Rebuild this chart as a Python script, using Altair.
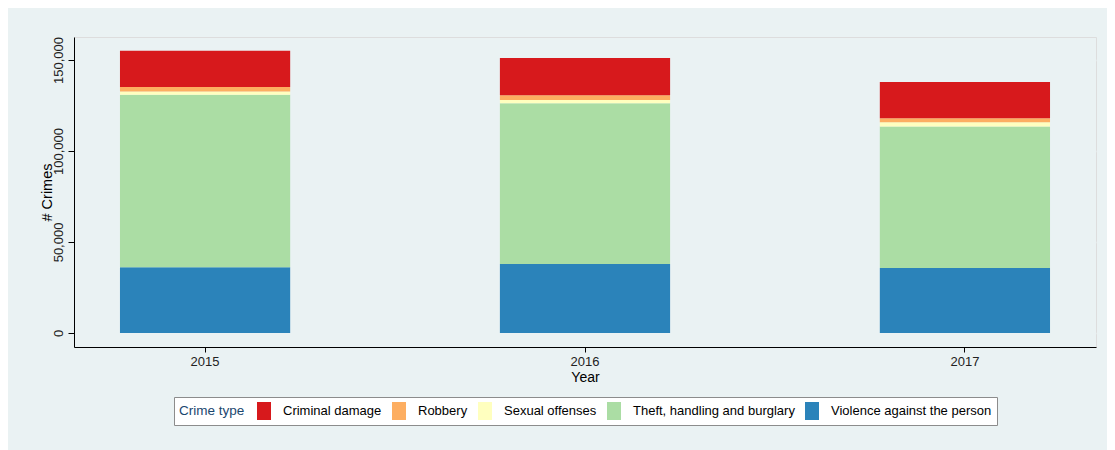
import altair as alt
import pandas as pd

years = ["2015", "2016", "2017"]
crime_types = [
    "Criminal damage",
    "Robbery",
    "Sexual offenses",
    "Theft, handling and burglary",
    "Violence against the person",
]
colors = ["#D7191C", "#FDAE61", "#FFFFBF", "#ABDDA4", "#2B83BA"]

violence = [36100, 37900, 35700]
theft = [94800, 88300, 77700]
sexual = [1700, 1800, 2400]
robbery = [2600, 2600, 2200]
criminal_damage = [19800, 20400, 19900]

series = {
    "Violence against the person": violence,
    "Theft, handling and burglary": theft,
    "Sexual offenses": sexual,
    "Robbery": robbery,
    "Criminal damage": criminal_damage,
}
stack_order = list(series.keys())

rows = []
for t, vals in series.items():
    for y, v in zip(years, vals):
        rows.append({"Year": y, "Type": t, "Crimes": v, "ord": stack_order.index(t)})
df = pd.DataFrame(rows)

FONT = "Liberation Sans"

chart = (
    alt.Chart(df)
    .mark_bar()
    .encode(
        x=alt.X(
            "Year:N",
            scale=alt.Scale(paddingInner=0.552, paddingOuter=0.121),
            axis=alt.Axis(
                title="Year",
                labelAngle=0,
                labelFontSize=13,
                labelColor="#222222",
                labelPadding=3,
                tickSize=5,
                tickColor="black",
                domainColor="black",
                titleFontSize=14,
                titleFontWeight="normal",
                titleColor="black",
                titlePadding=2,
                grid=False,
            ),
        ),
        y=alt.Y(
            "Crimes:Q",
            stack="zero",
            scale=alt.Scale(domain=[-7700, 162600], nice=False, zero=False),
            axis=alt.Axis(
                title="# Crimes",
                values=[0, 50000, 100000, 150000],
                format=",d",
                labelAngle=270,
                labelAlign="center",
                labelBaseline="bottom",
                labelFontSize=13,
                labelColor="#222222",
                labelPadding=3,
                tickSize=6,
                tickColor="black",
                domainColor="black",
                titleFontSize=14.5,
                titleFontWeight="normal",
                titleColor="black",
                titlePadding=-2,
                grid=True,
                gridColor="#EAF2F3",
                gridWidth=1.5,
            ),
        ),
        color=alt.Color(
            "Type:N",
            scale=alt.Scale(domain=crime_types, range=colors),
            legend=alt.Legend(
                title="Crime type",
                orient="none",
                legendX=100,
                legendY=360,
                direction="horizontal",
                columns=5,
                titleOrient="left",
                titleFontSize=13.5,
                titleFontWeight="normal",
                titleColor="#1A476F",
                titlePadding=10,
                symbolType="M-0.78,-1H0.78V1H-0.78Z",
                symbolSize=324,
                symbolStrokeWidth=0,
                symbolOpacity=1,
                labelFontSize=13,
                labelColor="black",
                labelOffset=10,
                columnPadding=8,
                padding=5,
                fillColor="white",
                strokeColor="#8C8C8C",
                labelLimit=300,
            ),
        ),
        order=alt.Order("ord:Q", sort="ascending"),
    )
    .properties(
        width=1022,
        height=310,
        autosize=alt.AutoSizeParams(type="none"),
        padding={"left": 66, "top": 29, "right": 11, "bottom": 103},
        background="#EAF2F3",
    )
    .configure_view(fill="white", stroke="transparent")
    .configure(font=FONT)
)

chart.save("out.html", embed_options={"renderer": "svg", "actions": False})
